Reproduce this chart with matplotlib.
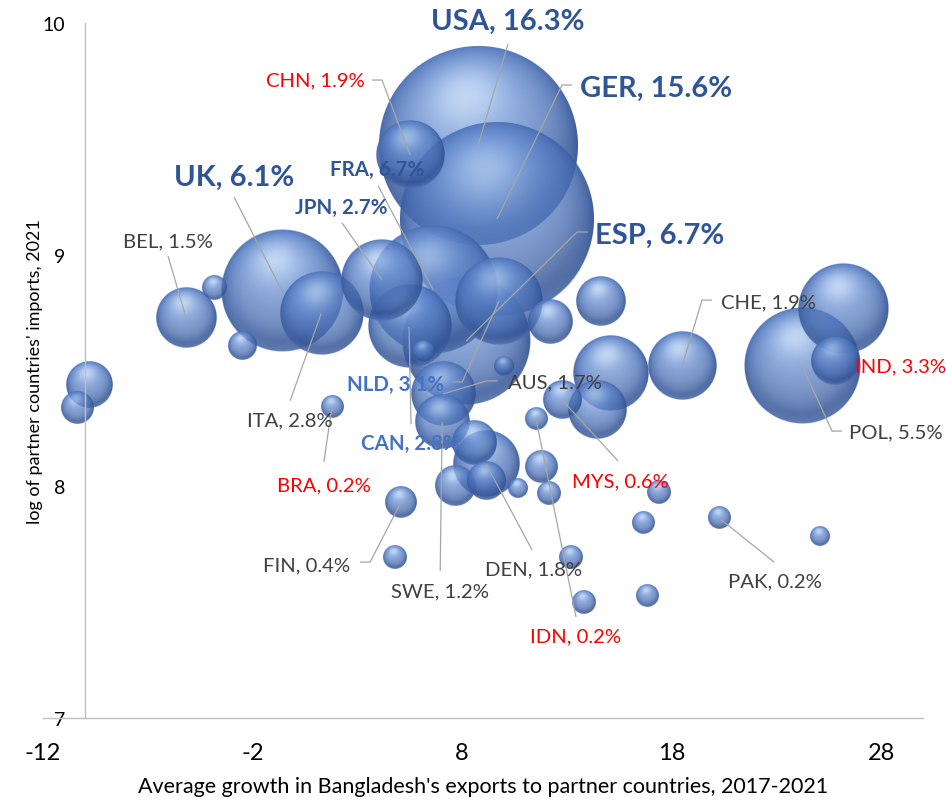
import numpy as np
import matplotlib
matplotlib.use('Agg')
import matplotlib.pyplot as plt
import matplotlib.transforms as mtransforms

plt.rcParams['font.family'] = ['Lato', 'DejaVu Sans']
plt.rcParams['axes.unicode_minus'] = False

# labelled partner countries: growth of exports (%), log of imports, share of exports (%)
countries = ['USA', 'GER', 'UK', 'ESP', 'FRA', 'JPN', 'NLD', 'CAN', 'CHN', 'BRA', 'MYS',
             'IDN', 'IND', 'BEL', 'ITA', 'AUS', 'SWE', 'DEN', 'FIN', 'CHE', 'POL', 'PAK']
growth = [8.76, 9.67, -0.59, 8.19, 6.62, 4.18, 9.77, 5.47, 5.52, 1.79, 12.77,
          11.53, 26.19, -5.17, 1.27, 7.09, 7.05, 9.15, 5.09, 18.50, 24.23, 20.27]
log_imports = [9.469, 9.154, 8.843, 8.627, 8.848, 8.891, 8.800, 8.688, 9.430, 8.343, 8.373,
               8.291, 8.766, 8.727, 8.744, 8.399, 8.278, 8.096, 7.932, 8.519, 8.519, 7.863]
share = [16.3, 15.6, 6.1, 6.7, 6.7, 2.7, 3.1, 2.8, 1.9, 0.2, 0.6,
         0.2, 3.3, 1.5, 2.8, 1.7, 1.2, 1.8, 0.4, 1.9, 5.5, 0.2]

# other partners, drawn without a label
other_growth = [-9.80, -10.38, -3.84, -2.50, 6.14, 10.00, 12.20, 14.59, 15.11, 14.44, 8.57, 7.67,
                9.15, 10.67, 11.77, 12.11, 4.80, 17.40, 16.64, 25.09, 13.20, 13.78, 16.83, 25.80]
other_log_imports = [8.437, 8.338, 8.856, 8.606, 8.580, 8.519, 8.709, 8.796, 8.489, 8.330, 8.191, 8.001,
                     8.023, 7.993, 8.084, 7.971, 7.695, 7.976, 7.842, 7.786, 7.695, 7.501, 7.527, 8.541]
other_share = [0.86, 0.43, 0.25, 0.32, 0.20, 0.16, 0.79, 0.98, 2.29, 1.41, 0.82, 0.65,
               0.59, 0.16, 0.42, 0.22, 0.23, 0.22, 0.20, 0.16, 0.22, 0.22, 0.20, 0.94]

x_ticks = [-12, -2, 8, 18, 28]
y_ticks = [7, 8, 9, 10]

# label look: colour, size, weight
styles = {
    'big':  ('#2F5597', 21, 'bold'),
    'dark': ('#2F5597', 14.8, 'bold'),
    'blue': ('#4472C4', 14.8, 'bold'),
    'grey': ('#404040', 14.6, 'normal'),
    'red':  ('#FF0000', 14.6, 'normal'),
}
label_style = {'USA': 'big', 'GER': 'big', 'UK': 'big', 'ESP': 'big',
               'FRA': 'dark', 'JPN': 'dark', 'NLD': 'blue', 'CAN': 'blue',
               'CHN': 'red', 'BRA': 'red', 'MYS': 'red', 'IDN': 'red', 'IND': 'red'}

# label offset from bubble centre and leader line path (points)
layout = {
    'USA': ((21.6, 90.0), [(21.6, 73.4)]),
    'GER': ((114.5, 94.3), [(46.8, 96.5), (54.0, 96.5)]),
    'UK':  ((-34.6, 82.1), [(-34.6, 67.7)]),
    'ESP': ((139.7, 76.3), [(79.9, 78.5), (87.8, 78.5)]),
    'CHN': ((-68.4, 54.0), [(-20.2, 54.0), (-27.4, 54.0)]),
    'FRA': ((-40.3, 87.1), [(-39.6, 74.9)]),
    'JPN': ((-29.5, 52.6), [(-28.8, 41.0)]),
    'BEL': ((-13.0, 55.4), [(-13.0, 44.6)]),
    'ITA': ((-22.3, -76.3), [(-22.3, -62.6)]),
    'BRA': ((-5.8, -56.2), [(-5.8, -39.6)]),
    'NLD': ((-74.9, -59.8), [(-26.6, -58.3), (-33.8, -58.3)]),
    'AUS': ((80.6, 8.6), [(31.7, 9.4), (39.6, 9.4)]),
    'CAN': ((0.7, -83.5), [(1.4, -69.8)]),
    'SWE': ((-1.4, -121.7), [(-1.4, -107.3)]),
    'DEN': ((33.8, -75.6), [(33.1, -61.9)]),
    'FIN': ((-67.7, -45.4), [(-22.3, -43.2), (-29.5, -43.2)]),
    'MYS': ((41.8, -58.3), [(40.3, -43.9)]),
    'IDN': ((28.8, -156.2), [(28.8, -142.6)]),
    'CHE': ((61.9, 46.1), [(14.4, 47.5), (21.6, 47.5)]),
    'POL': ((67.7, -47.5), [(21.6, -46.8), (28.8, -46.8)]),
    'IND': ((41.0, -41.0), []),
    'PAK': ((40.3, -45.4), [(39.6, -31.7)]),
}


def sphere(n=200):
    # shaded ball with a soft highlight up and slightly left of centre
    u = np.linspace(-1, 1, n)
    X, Y = np.meshgrid(u, -u)
    d = np.sqrt(X ** 2 + Y ** 2)
    Z = np.sqrt(np.clip(1 - d ** 2, 0, None))
    light = np.array([-0.12, 0.5, 0.86])
    light = light / np.linalg.norm(light)
    lam = np.clip(X * light[0] + Y * light[1] + Z * light[2], 0, 1)
    dark = np.array([0.18, 0.31, 0.57])
    mid = np.array([0.40, 0.56, 0.84])
    hi = np.array([0.84, 0.93, 1.0])
    rgb = dark + (mid - dark) * lam[..., None] ** 1.3
    spec = lam ** 14
    rgb = rgb + (hi - rgb) * spec[..., None] * 0.6
    rim = np.clip((d - 0.82) / 0.18, 0, 1) * np.clip(-Y, 0, 1) * 0.3
    rgb = rgb + (np.array([0.70, 0.80, 0.96]) - rgb) * rim[..., None]
    alpha = np.clip((1 - d) * n / 2, 0, 1) * (0.72 + 0.22 * d ** 4)
    return np.dstack([np.clip(rgb, 0, 1), alpha])


fig = plt.figure(figsize=(9.46, 8.03), dpi=100)
ax = fig.add_axes([43 / 946, 84 / 803, 880 / 946, 695 / 803])
xmin, xmax, ymin, ymax = -12, 30, 7, 10

# bubble radius in pixels per sqrt(share %), tied to the plot height
bbox = ax.get_window_extent()
r_unit = 0.0357 * bbox.height
dx_px = (xmax - xmin) / bbox.width
dy_px = (ymax - ymin) / bbox.height

all_x = growth + other_growth
all_y = log_imports + other_log_imports
all_s = share + other_share
ball = sphere()
order = np.argsort(all_s)[::-1]
for i in order:
    r = r_unit * np.sqrt(all_s[i])
    rx, ry = r * dx_px, r * dy_px
    ax.imshow(ball, extent=[all_x[i] - rx, all_x[i] + rx, all_y[i] - ry, all_y[i] + ry],
              aspect='auto', interpolation='antialiased', zorder=2)

to_px = mtransforms.Affine2D().scale(fig.dpi / 72.0)
for c, x, y, s in zip(countries, growth, log_imports, share):
    (tx, ty), path = layout[c]
    colour, size, weight = styles[label_style.get(c, 'grey')]
    if path:
        pts = [(0, 0)] + path
        trans = to_px + mtransforms.ScaledTranslation(x, y, ax.transData)
        ax.plot([p[0] for p in pts], [p[1] for p in pts], color='#A6A6A6', lw=0.9,
                transform=trans, zorder=3, solid_capstyle='butt')
    ax.annotate(f'{c}, {s}%', xy=(x, y), xytext=(tx, ty), textcoords='offset points',
                ha='center', va='center', color=colour, fontsize=size, fontweight=weight,
                zorder=4)

ax.set_xlim(xmin, xmax)
ax.set_ylim(ymin, ymax)
ax.set_xticks(x_ticks)
ax.set_yticks(y_ticks)
ax.tick_params(axis='x', length=0, pad=17, labelsize=17, colors='black')
ax.tick_params(axis='y', length=0, pad=14, labelsize=14, colors='black')
for side in ['top', 'right']:
    ax.spines[side].set_visible(False)
ax.spines['left'].set_position(('data', -10))
ax.spines['left'].set_color('#BFBFBF')
ax.spines['bottom'].set_color('#BFBFBF')
ax.spines['left'].set_linewidth(1.0)
ax.spines['bottom'].set_linewidth(1.0)

ax.set_xlabel("Average growth in Bangladesh's exports to partner countries, 2017-2021",
              fontsize=15.5, labelpad=10)
ax.set_ylabel("log of partner countries' imports, 2021", fontsize=13, labelpad=6)
ax.yaxis.set_label_coords(-0.0, 0.5)
ax.yaxis.label.set_horizontalalignment('center')

fig.savefig('out.png', dpi=100)
